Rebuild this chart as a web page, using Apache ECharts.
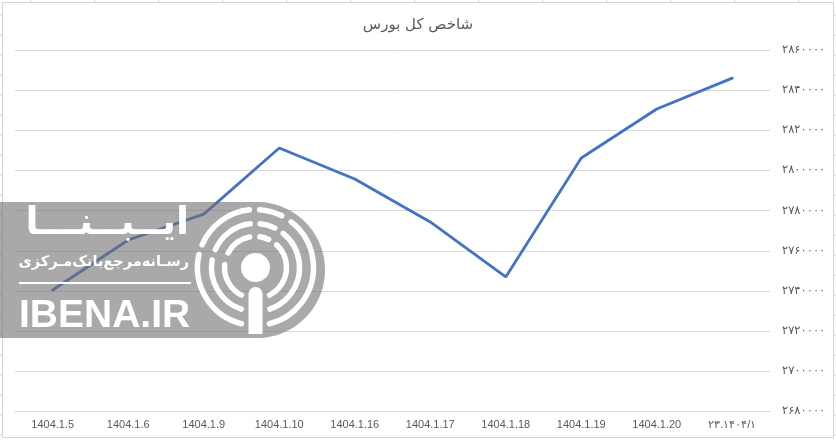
<!DOCTYPE html>
<html><head><meta charset="utf-8">
<style>html,body{margin:0;padding:0;background:#fff}#c{width:836px;height:440px}</style>
<script src="https://cdn.jsdelivr.net/npm/echarts@6/dist/echarts.min.js"></script></head>
<body><div id="c"></div><script>
const categories=['1404.1.5','1404.1.6','1404.1.9','1404.1.10','1404.1.16','1404.1.17','1404.1.18','1404.1.19','1404.1.20','۲۳.۱۴۰۴/۱'];
const indexValues=[2740500,2765400,2778300,2811200,2795800,2774400,2747000,2806200,2830600,2846000];
const axisMin=2680000, axisMax=2860000, axisStep=20000;
const chartTitle='شاخص کل بورس';
const toPersian=v=>String(v).replace(/\d/g,d=>'۰۱۲۳۴۵۶۷۸۹'[d]);
const rings=[
 {r:58,segs:[[96,157],[63,86],[-76,52],[167,256]]},
 {r:44,segs:[[97,156],[64,84],[-71,51],[170,251]]},
 {r:31,segs:[[101,152],[65,82],[-63,47],[175,243]]}
];
const cx=255.5,cy=267.5,D=Math.PI/180;
const arcs=[];
rings.forEach(g=>g.segs.forEach(s=>arcs.push({type:'arc',shape:{cx,cy,r:g.r,startAngle:-s[1]*D,endAngle:-s[0]*D,clockwise:true},style:{stroke:'#fff',lineWidth:5.5,fill:null,lineCap:'round'},z:102})));
const bodyPts=[[0,202]];
for(let a=-90;a<=90;a+=3){bodyPts.push([257+68*Math.cos(a*D),270+68*Math.sin(a*D)]);}
bodyPts.push([0,338]);
const cellTicks=[];
for(let x=30.5;x<836;x+=64)cellTicks.push({type:'line',shape:{x1:x,y1:0,x2:x,y2:2},style:{stroke:'#d4d4d4'},z:1});
for(let y=15;y<440;y+=20){cellTicks.push({type:'line',shape:{x1:0,y1:y,x2:2,y2:y},style:{stroke:'#d4d4d4'},z:1});cellTicks.push({type:'line',shape:{x1:834,y1:y,x2:836,y2:y},style:{stroke:'#d4d4d4'},z:1});}
const chart=echarts.init(document.getElementById('c'),null,{renderer:'canvas'});
chart.setOption({
 animation:false,backgroundColor:'#fff',
 title:{text:chartTitle,left:'center',top:13,textStyle:{fontFamily:'"DejaVu Sans","Liberation Sans",sans-serif',fontSize:15,fontWeight:'normal',color:'#595959'}},
 grid:{left:15,right:66,top:50,bottom:28.5,containLabel:false},
 xAxis:{type:'category',data:categories,axisLine:{show:true,lineStyle:{color:'#d9d9d9'}},axisTick:{show:false},axisLabel:{margin:8,fontFamily:'"Liberation Sans",sans-serif',fontSize:11,color:'#595959',interval:0}},
 yAxis:{type:'value',position:'right',min:axisMin,max:axisMax,interval:axisStep,axisLine:{show:false},axisTick:{show:false},splitLine:{lineStyle:{color:'#d9d9d9',width:1}},axisLabel:{margin:12,align:'left',padding:[0,0,2,0],fontFamily:'"DejaVu Sans",sans-serif',fontSize:11.5,color:'#595959',formatter:v=>toPersian(v)}},
 series:[{type:'line',data:indexValues,symbol:'none',smooth:false,lineStyle:{color:'#4472c4',width:2.8,cap:'round'},z:3}],
 graphic:[
  {type:'rect',shape:{x:2.5,y:2.5,width:831,height:435},style:{fill:null,stroke:'#d4d4d4',lineWidth:1},z:1,silent:true},
  ...cellTicks,
  {type:'polygon',shape:{points:bodyPts},style:{fill:'rgba(112,112,112,0.6)'},z:100},
  ...arcs,
  {type:'circle',shape:{cx,cy,r:14.5},style:{fill:'#fff'},z:102},
  {type:'rect',shape:{x:248.5,y:287,width:14,height:47,r:[7,7,0,0]},style:{fill:'#fff'},z:102},
  {type:'text',x:189,y:205,style:{text:'ایــبــنـــا',align:'right',fill:'#fff',font:'bold 38px "DejaVu Sans",sans-serif'},z:102},
  {type:'text',x:189,y:255,style:{text:'رسـانه‌مرجع‌بانک‌مـرکزی',align:'right',fill:'#fff',font:'bold 14.5px "DejaVu Sans",sans-serif'},z:102},
  {type:'rect',shape:{x:19,y:282,width:172,height:2},style:{fill:'#fff'},z:102},
  {type:'text',x:19,y:297,style:{text:'IBENA.IR',fill:'#fff',font:'bold 39px "Liberation Sans",sans-serif'},z:102}
 ]
});
</script></body></html>
